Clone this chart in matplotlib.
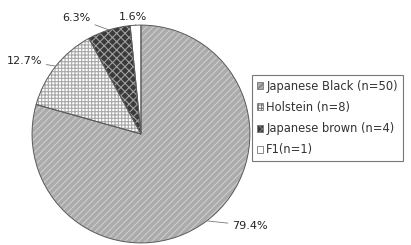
import numpy as np
import matplotlib
matplotlib.use("Agg")
import matplotlib.pyplot as plt
from matplotlib.patches import Patch

breeds = ["Japanese Black (n=50)", "Holstein (n=8)", "Japanese brown (n=4)", "F1(n=1)"]
counts = [50, 8, 4, 1]
pct_labels = ["79.4%", "12.7%", "6.3%", "1.6%"]
# where each percentage label sits (pie radius = 1)
label_pos = [(1.0, -0.84), (-1.07, 0.67), (-0.59, 1.065), (-0.075, 1.075)]

faces = ["#ababab", "white", "#3a3a3a", "white"]
hatches = ["/////", "+++++", "xxxx", ""]
hatch_cols = ["#cdcdcd", "#a8a8a8", "#a0a0a0", "white"]

plt.rcParams["hatch.linewidth"] = 0.8
fig = plt.figure(figsize=(4.11, 2.45), dpi=100)
ax = fig.add_axes([0.078, 0.008, 0.530, 0.890])

# filled + hatched wedges
wedges, _ = ax.pie(counts, startangle=90, counterclock=False, colors=faces,
                   wedgeprops=dict(linewidth=0))
for w, h, hc in zip(wedges, hatches, hatch_cols):
    w.set_hatch(h)
    w.set_edgecolor(hc)

# outlines on top
ax.pie(counts, startangle=90, counterclock=False,
       wedgeprops=dict(fill=False, edgecolor="#5a5a5a", linewidth=0.7))

ax.set_xlim(-1, 1)
ax.set_ylim(-1, 1)
ax.set_aspect("equal")

for w, lab, pos in zip(wedges, pct_labels, label_pos):
    ang = np.deg2rad((w.theta1 + w.theta2) / 2)
    edge = (np.cos(ang), np.sin(ang))
    ax.annotate(lab, xy=edge, xytext=pos, ha="center", va="center",
                fontsize=8, color="#222222", annotation_clip=False,
                arrowprops=dict(arrowstyle="-", color="#777777", lw=0.6,
                                shrinkA=1, shrinkB=0))

handles = [Patch(facecolor=f, hatch=h, edgecolor="#777777", linewidth=0.6)
           for f, h in zip(faces, hatches)]
leg = fig.legend(handles, breeds, loc="upper left", bbox_to_anchor=(0.613, 0.694),
                 fontsize=8.3, frameon=True, fancybox=False, edgecolor="#555555",
                 handlelength=0.55, handleheight=0.55, handletextpad=0.3,
                 labelspacing=0.72, borderpad=0.4, borderaxespad=0)
leg.get_frame().set_linewidth(0.8)
for t in leg.get_texts():
    t.set_color("#333333")

fig.savefig("out.png", dpi=100)
